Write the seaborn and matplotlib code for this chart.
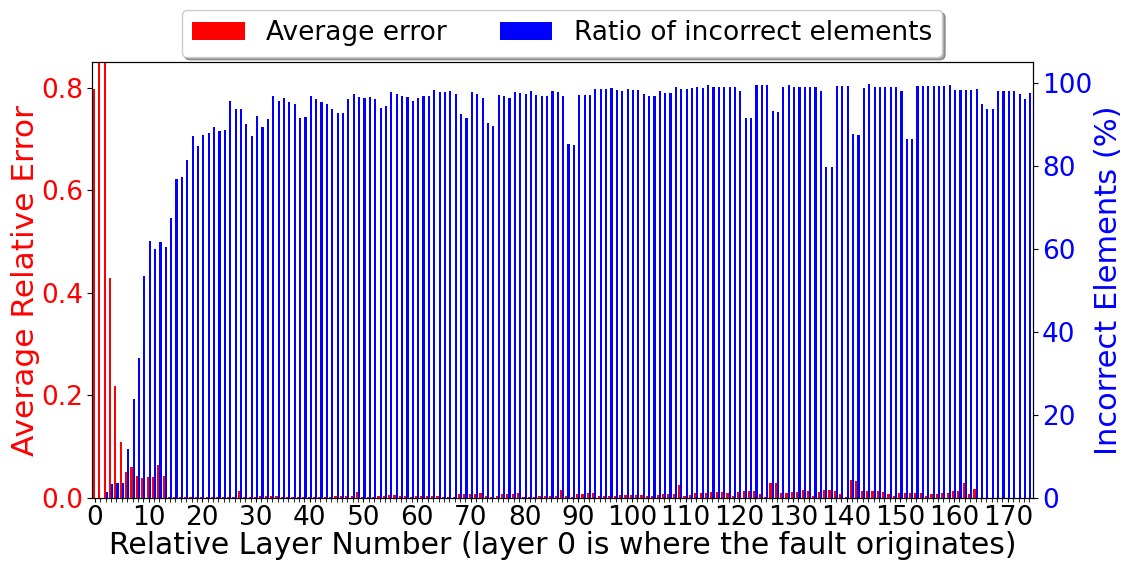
import numpy as np
import seaborn as sns
import matplotlib.pyplot as plt

# layer index relative to the fault origin
layers = np.arange(175)

# average relative error (left axis); layers 1 and 2 run off the top
avg_error = [
    0.797, 1.32, 1.05, 0.429, 0.219, 0.110, 0.051, 0.061, 0.043, 0.039,
    0.040, 0.040, 0.065, 0.043, 0.001, 0.002, 0.002, 0.002, 0.002, 0.002,
    0.001, 0.001, 0.001, 0.001, 0.001, 0.001, 0.001, 0.013, 0.001, 0.001,
    0.002, 0.003, 0.003, 0.003, 0.003, 0.002, 0.001, 0.001, 0.001, 0.001,
    0.002, 0.002, 0.002, 0.001, 0.001, 0.003, 0.003, 0.003, 0.003, 0.012,
    0.001, 0.001, 0.001, 0.004, 0.004, 0.005, 0.005, 0.004, 0.003, 0.001,
    0.004, 0.004, 0.004, 0.004, 0.004, 0.001, 0.001, 0.001, 0.007, 0.008,
    0.008, 0.008, 0.010, 0.004, 0.001, 0.004, 0.007, 0.007, 0.008, 0.010,
    0.001, 0.001, 0.001, 0.004, 0.004, 0.004, 0.004, 0.016, 0.004, 0.001,
    0.008, 0.008, 0.009, 0.009, 0.004, 0.003, 0.003, 0.003, 0.005, 0.005,
    0.005, 0.005, 0.005, 0.004, 0.003, 0.005, 0.007, 0.007, 0.007, 0.025,
    0.003, 0.005, 0.009, 0.009, 0.009, 0.012, 0.012, 0.011, 0.009, 0.003,
    0.012, 0.014, 0.014, 0.013, 0.008, 0.001, 0.029, 0.029, 0.010, 0.009,
    0.012, 0.011, 0.016, 0.013, 0.003, 0.012, 0.016, 0.016, 0.014, 0.008,
    0.001, 0.035, 0.034, 0.014, 0.014, 0.014, 0.014, 0.012, 0.008, 0.003,
    0.010, 0.010, 0.009, 0.010, 0.009, 0.004, 0.007, 0.008, 0.010, 0.010,
    0.014, 0.014, 0.029, 0.007, 0.017, 0.0, 0.0, 0.0, 0.0, 0.0,
    0.0, 0.0, 0.0, 0.0, 0.0,
]

# share of incorrect output elements in percent (right axis)
incorrect_pct = [
    0.0, 0.0, 1.5, 3.3, 3.5, 3.7, 11.9, 23.9, 33.6, 53.5,
    62.0, 59.9, 61.6, 60.4, 67.5, 76.8, 77.4, 81.3, 87.2, 84.8,
    87.5, 87.9, 89.3, 88.3, 88.7, 95.7, 93.7, 93.6, 90.0, 87.2,
    92.0, 89.4, 91.2, 96.8, 95.7, 96.3, 95.4, 94.9, 91.6, 91.8,
    96.9, 96.1, 95.4, 94.9, 93.7, 92.8, 92.8, 96.1, 97.3, 96.5,
    96.4, 96.6, 96.2, 94.0, 94.3, 97.7, 97.3, 96.8, 96.6, 95.7,
    96.3, 96.9, 96.9, 98.2, 97.8, 97.8, 98.0, 97.3, 92.5, 91.5,
    97.7, 97.3, 96.4, 90.2, 89.7, 97.0, 96.8, 96.4, 97.8, 97.5,
    97.3, 98.0, 97.0, 96.7, 96.9, 98.0, 97.8, 96.9, 85.3, 84.9,
    97.1, 97.1, 97.1, 98.6, 98.4, 98.5, 98.7, 98.2, 98.1, 98.4,
    98.3, 98.3, 97.4, 96.9, 96.9, 98.0, 97.5, 97.5, 98.9, 98.6,
    98.4, 98.7, 99.0, 98.8, 99.5, 99.0, 99.0, 99.0, 99.0, 98.9,
    98.0, 91.5, 91.5, 99.4, 99.4, 99.4, 93.3, 92.9, 98.9, 99.5,
    99.0, 99.0, 99.0, 99.0, 99.0, 98.0, 79.8, 79.8, 99.3, 99.3,
    99.3, 87.6, 87.4, 98.8, 99.7, 99.0, 99.0, 99.0, 99.0, 99.0,
    98.1, 86.4, 86.4, 99.3, 99.3, 99.3, 99.3, 99.1, 99.1, 99.5,
    98.3, 98.3, 98.3, 98.3, 98.6, 94.9, 93.6, 93.6, 98.0, 98.0,
    98.0, 98.0, 97.3, 96.1, 97.6,
]

sns.set_style("ticks", {"axes.edgecolor": "black", "text.color": "black",
                        "axes.labelcolor": "black", "xtick.color": "black",
                        "ytick.color": "black"})
plt.rcParams['font.family'] = ['DejaVu Sans']

bar_w = 0.4
fig = plt.figure(figsize=(11.23, 5.63), dpi=100)
ax = fig.add_axes([92 / 1123, 65 / 563, 941 / 1123, 436 / 563])
ax2 = ax.twinx()

sns.barplot(x=layers - bar_w / 2, y=avg_error, ax=ax, native_scale=True,
            color='red', saturation=1, width=bar_w, errorbar=None,
            linewidth=0, label='Average error')
sns.barplot(x=layers + bar_w / 2, y=incorrect_pct, ax=ax2, native_scale=True,
            color='blue', saturation=1, width=bar_w, errorbar=None,
            linewidth=0, label='Ratio of incorrect elements')

ax.set_xlim(-0.55, 174.7)
ax.set_ylim(0, 0.85)
ax2.set_ylim(0, 105)

ax.set_xticks(range(0, 171, 10))
ax.set_xticks(range(0, 175), minor=True)
ax.tick_params(axis='x', which='both', length=3, pad=2, labelsize=19)
ax.tick_params(axis='y', labelsize=19, labelcolor='red', length=3.5, pad=3)
ax2.tick_params(axis='y', labelsize=19, labelcolor='blue', length=3.5, pad=3)
ax.set_yticks([0, 0.2, 0.4, 0.6, 0.8])
ax2.set_yticks([0, 20, 40, 60, 80, 100])

ax.set_xlabel('Relative Layer Number (layer 0 is where the fault originates)',
              fontsize=21.5, labelpad=0)
ax.set_ylabel('Average Relative Error', fontsize=22.5, color='red', labelpad=1)
ax2.set_ylabel('Incorrect Elements (%)', fontsize=22, color='blue', labelpad=1)

ax.legend_ = None
ax2.legend_ = None
h1, l1 = ax.get_legend_handles_labels()
h2, l2 = ax2.get_legend_handles_labels()
fig.legend(h1 + h2, l1 + l2, loc='upper center', ncol=2, fontsize=19,
           bbox_to_anchor=(562 / 1123, 1.006), shadow=True,
           columnspacing=2.0)

fig.savefig('out.png', dpi=100)
